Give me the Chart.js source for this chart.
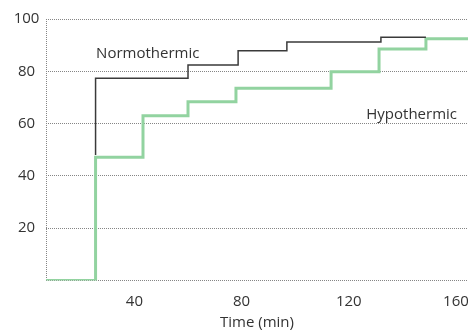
<!DOCTYPE html>
<html>
<head>
<meta charset="utf-8">
<script src="https://cdn.jsdelivr.net/npm/chart.js@4"></script>
<style>
  html, body { margin: 0; padding: 0; background: #fff; }
  #wrap { width: 468px; height: 333px; }
</style>
</head>
<body>
<div id="wrap"><canvas id="chart"></canvas></div>
<script>
// step curves (time in min, value in %)
const normoTimes  = [25.5, 25.5, 60.0, 78.7, 96.9, 132.0, 148.8];
const normoValues = [48.0, 77.3, 82.4, 87.9, 91.2, 93.0, 93.0];
const hypoTimes   = [7, 25.5, 43.2, 60.0, 77.9, 113.4, 131.3, 148.8, 164.5];
const hypoValues  = [0, 47.1, 63.0, 68.4, 73.5, 79.8, 88.5, 92.4, 92.4];

const xTicks = [40, 80, 120, 160];
const yTicks = [0, 20, 40, 60, 80, 100];
const xMin = 7, xMax = 164.5;

// where the series names sit (data units)
const normoLabelAt = [25.7, 85.2];
const hypoLabelAt  = [160.4, 61.8];

const toPoints = (xs, ys) => xs.map((x, i) => ({ x, y: ys[i] }));

Chart.defaults.font.family = '"Open Sans"';
Chart.defaults.font.size = 15;
Chart.defaults.color = '#333';

const gridColor = '#858585';

// dotted left axis line + series names
const extras = {
  id: 'extras',
  beforeDatasetsDraw(chart) {
    const { ctx, chartArea } = chart;
    const x = Math.round(chartArea.left) + 0.5;
    ctx.save();
    ctx.strokeStyle = gridColor;
    ctx.lineWidth = 1;
    ctx.setLineDash([1, 1]);
    ctx.beginPath();
    ctx.moveTo(x, chartArea.top);
    ctx.lineTo(x, chartArea.bottom);
    ctx.stroke();
    ctx.restore();
  },
  afterDatasetsDraw(chart) {
    const { ctx, scales: { x, y } } = chart;
    ctx.save();
    ctx.font = '15px "Open Sans"';
    ctx.fillStyle = '#333';
    ctx.textBaseline = 'alphabetic';
    ctx.textAlign = 'left';
    ctx.fillText('Normothermic', x.getPixelForValue(normoLabelAt[0]), y.getPixelForValue(normoLabelAt[1]));
    ctx.textAlign = 'right';
    ctx.fillText('Hypothermic', x.getPixelForValue(hypoLabelAt[0]), y.getPixelForValue(hypoLabelAt[1]));
    ctx.restore();
  }
};

new Chart(document.getElementById('chart'), {
  type: 'line',
  data: {
    datasets: [
      {
        label: 'Normothermic',
        data: toPoints(normoTimes, normoValues),
        stepped: 'before',
        borderColor: '#3a3a3a',
        borderWidth: 1.5,
        pointRadius: 0,
        fill: false
      },
      {
        label: 'Hypothermic',
        data: toPoints(hypoTimes, hypoValues),
        stepped: 'before',
        borderColor: '#92d3a0',
        borderWidth: 3,
        pointRadius: 0,
        fill: false
      }
    ]
  },
  options: {
    responsive: true,
    maintainAspectRatio: false,
    animation: false,
    layout: { padding: { top: 19, right: 0, left: 0, bottom: 0 } },
    plugins: {
      legend: { display: false },
      tooltip: { enabled: false }
    },
    scales: {
      x: {
        type: 'linear',
        min: xMin,
        max: xMax,
        afterBuildTicks: (scale) => { scale.ticks = xTicks.map(v => ({ value: v })); },
        afterFit: (scale) => {
          scale.height = 52.5;
          scale.paddingLeft = 0;
          scale.paddingRight = 0;
        },
        grid: { display: false, drawTicks: false },
        border: { display: false },
        ticks: { padding: 12, maxRotation: 0 },
        title: {
          display: true,
          text: 'Time (min)',
          padding: { top: 0, bottom: 1 }
        }
      },
      y: {
        min: 0,
        max: 100,
        afterBuildTicks: (scale) => { scale.ticks = yTicks.map(v => ({ value: v })); },
        afterFit: (scale) => { scale.width = 46; },
        grid: { color: gridColor, lineWidth: 1, drawTicks: false },
        border: { display: false, dash: [1, 1] },
        ticks: {
          padding: 6.6,
          crossAlign: 'center',
          callback: (v) => (v === 0 ? '' : v)
        }
      }
    }
  },
  plugins: [extras]
});
</script>
</body>
</html>
